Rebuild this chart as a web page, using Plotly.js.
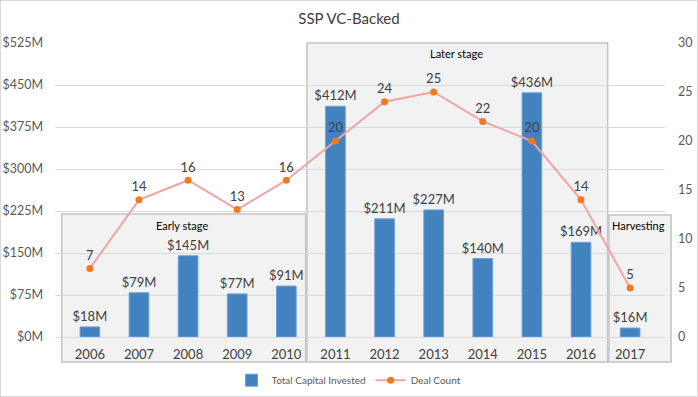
<!DOCTYPE html>
<html><head><meta charset="utf-8">
<script src="https://cdn.plot.ly/plotly-3.0.1.min.js"></script>
<style>html,body{margin:0;padding:0;background:#fff}#wrap{width:698px;height:397px;box-sizing:border-box;border:1px solid #d9d9d9}#chart{width:696px;height:395px}</style>
</head><body><div id="wrap"><div id="chart"></div></div>
<script>
const years = ['2006','2007','2008','2009','2010','2011','2012','2013','2014','2015','2016','2017'];
const capital = [18, 79, 145, 77, 91, 412, 211, 227, 140, 436, 169, 16];
const deals = [7, 14, 16, 13, 16, 20, 24, 25, 22, 20, 14, 5];
const leftTicks = [0, 75, 150, 225, 300, 375, 450, 525];
const rightTicks = [0, 5, 10, 15, 20, 25, 30];
const stages = ['Early stage', 'Later stage', 'Harvesting'];

const FONT = 'Lato, "Open Sans", sans-serif';
const fig = [
  {type:'bar', x:years, y:capital, name:'Total Capital Invested',
   marker:{color:'#4282be', line:{color:'#6aa1d6', width:1}}, width:0.4,
   text:capital.map(v=>'$'+v+'M'), textposition:'outside', cliponaxis:false, constraintext:'none',
   textfont:{size:13, color:'#404040', family:FONT}, hoverinfo:'skip'},
  {type:'scatter', mode:'lines+markers+text', x:years, y:deals, yaxis:'y2', name:'Deal Count',
   line:{color:'#f4a3a3', width:2}, marker:{color:'#f2791f', size:7},
   text:deals.map(String), textposition:'top center', cliponaxis:false,
   textfont:{size:13, color:'#404040', family:FONT}, hoverinfo:'skip'}
];
const boxStyle = {line:{color:'#c4c4c4', width:1.5}, fillcolor:'#f2f2f2', layer:'below', xref:'paper', yref:'paper', type:'rect'};
const labelStyle = {xref:'paper', yref:'paper', xanchor:'center', yanchor:'middle', showarrow:false, font:{size:11, color:'#000', family:FONT}};
const layout = {
  width:696, height:395,
  margin:{l:54, r:32, t:42, b:59, autoexpand:false},
  paper_bgcolor:'#fff', plot_bgcolor:'rgba(0,0,0,0)',
  font:{family:FONT, color:'#595959'},
  title:{text:'SSP VC-Backed', x:0.5, xanchor:'center', y:0.955, yanchor:'middle', font:{size:15, color:'#404040', family:FONT}},
  showlegend:true,
  legend:{orientation:'h', x:0.5, xanchor:'center', xref:'container', yref:'container', y:0.04, yanchor:'middle', font:{size:10, color:'#595959', family:FONT}, traceorder:'normal'},
  bargap:0.6,
  xaxis:{type:'category', tickfont:{size:13, color:'#404040'}, showgrid:false, showline:false, ticks:'', ticklabelstandoff:8, fixedrange:true, automargin:false},
  yaxis:{range:[0,525], tickvals:leftTicks, ticktext:leftTicks.map(v=>'$'+v+'M'), tickfont:{size:12.5, color:'#595959'}, automargin:false,
         gridcolor:'#d9d9d9', gridwidth:1, zeroline:true, zerolinecolor:'#d9d9d9', zerolinewidth:1, showline:false, ticks:'', ticklabelstandoff:11},
  yaxis2:{range:[0,30], tickvals:rightTicks, overlaying:'y', side:'right', showgrid:false, zeroline:false, showline:false, ticks:'', automargin:false,
         tickfont:{size:12.5, color:'#595959'}, ticklabelstandoff:12},
  shapes:[
    Object.assign({x0:0.011, x1:0.411, y0:-0.085, y1:0.418}, boxStyle),
    Object.assign({x0:0.413, x1:0.906, y0:-0.085, y1:1.0}, boxStyle),
    Object.assign({x0:0.908, x1:1.01, y0:-0.085, y1:0.415}, boxStyle)
  ],
  annotations:[
    Object.assign({text:stages[0], x:0.208, y:0.378}, labelStyle),
    Object.assign({text:stages[1], x:0.659, y:0.963}, labelStyle),
    Object.assign({text:stages[2], x:0.957, y:0.378}, labelStyle)
  ]
};
Plotly.newPlot('chart', fig, layout, {displayModeBar:false, staticPlot:true});
</script></body></html>
